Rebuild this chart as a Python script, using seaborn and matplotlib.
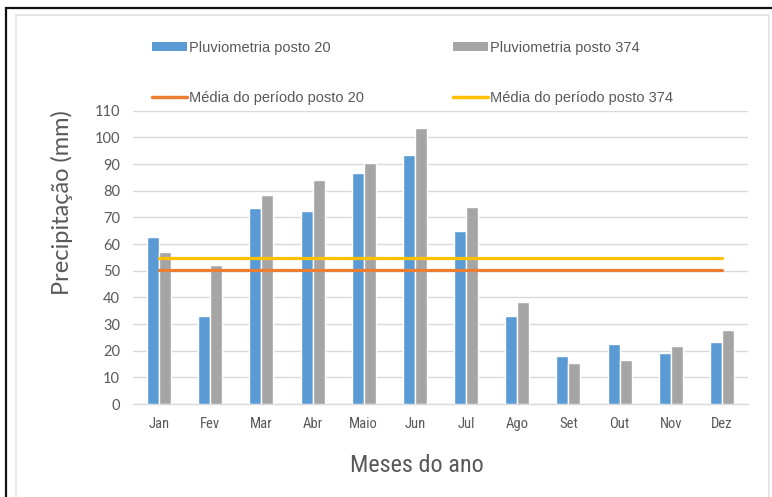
import numpy as np
import pandas as pd
import seaborn as sns
import matplotlib
matplotlib.use("Agg")
import matplotlib.pyplot as plt
from matplotlib import font_manager
from matplotlib.patches import Patch, Rectangle
from matplotlib.lines import Line2D

# Monthly rainfall (mm) at two stations
meses = ["Jan", "Fev", "Mar", "Abr", "Maio", "Jun", "Jul", "Ago", "Set", "Out", "Nov", "Dez"]
posto_20 = [62.5, 33.0, 73.6, 72.4, 86.6, 93.5, 64.9, 33.0, 17.9, 22.4, 19.3, 23.3]
posto_374 = [57.0, 52.3, 78.3, 83.9, 90.3, 103.5, 73.8, 38.1, 15.3, 16.4, 21.6, 27.6]
yticks = list(range(0, 111, 10))

serie_20 = "Pluviometria posto 20"
serie_374 = "Pluviometria posto 374"
media_lbl_20 = "Média do período posto 20"
media_lbl_374 = "Média do período posto 374"

c_blue, c_gray, c_orange, c_yellow = "#5B9BD5", "#A5A5A5", "#ED7D31", "#FFC000"
txt_gray = "#595959"

available = {f.name for f in font_manager.fontManager.ttflist}
def pick(*names):
    for n in names:
        if n in available:
            return n
    return "DejaVu Sans"

f_arial = pick("Liberation Sans", "Arimo", "DejaVu Sans")
f_narrow = pick("Liberation Sans Narrow", "DejaVu Sans Condensed", "Roboto Condensed", f_arial)
f_calibri = pick("Lato", "Open Sans", f_arial)

sns.set_theme(style="white")
plt.rcParams["font.family"] = [f_arial, "DejaVu Sans"]

df = pd.DataFrame({
    "mes": meses * 2,
    "valor": posto_20 + posto_374,
    "serie": [serie_20] * 12 + [serie_374] * 12,
})

fig = plt.figure(figsize=(7.72, 4.97), dpi=100)
ax = fig.add_axes([133.4 / 772, 1 - 404 / 497, (747.6 - 133.4) / 772, (404 - 110.7) / 497])

sns.barplot(data=df, x="mes", y="valor", hue="serie", order=meses,
            hue_order=[serie_20, serie_374], palette=[c_blue, c_gray],
            width=0.47, gap=0, saturation=1, ax=ax, legend=False, zorder=3)

x_idx = np.arange(len(meses))
media_20 = float(np.mean(posto_20))
media_374 = float(np.mean(posto_374))
sns.lineplot(x=x_idx, y=np.full(len(meses), media_20), color=c_orange, lw=2.3, ax=ax, zorder=4)
sns.lineplot(x=x_idx, y=np.full(len(meses), media_374), color=c_yellow, lw=2.3, ax=ax, zorder=4)

ax.set_xlim(-0.5, len(meses) - 0.5)
ax.set_ylim(0, 110)
ax.set_yticks(yticks)
ax.yaxis.grid(True, color="#D9D9D9", lw=1.0, zorder=0)
ax.xaxis.grid(False)
for s in ["top", "right", "left"]:
    ax.spines[s].set_visible(False)
ax.spines["bottom"].set_color("#D9D9D9")
ax.spines["bottom"].set_linewidth(1.0)
ax.tick_params(axis="both", length=0)
ax.tick_params(axis="y", pad=9.5, labelcolor=txt_gray, labelsize=10.5)
ax.tick_params(axis="x", pad=9.5, labelcolor=txt_gray, labelsize=10.5)
for t in ax.get_yticklabels():
    t.set_fontfamily(f_calibri)
for t in ax.get_xticklabels():
    t.set_fontfamily(f_narrow)
ax.set_xlabel("")
ax.set_ylabel("")

fig.text(62 / 772, 1 - 203 / 497, "Precipitação (mm)", rotation=90, ha="center", va="center",
         fontsize=17, color=txt_gray, family=f_calibri)
fig.text(417 / 772, 1 - 466 / 497, "Meses do ano", ha="center", va="center",
         fontsize=17.5, color=txt_gray, family=f_narrow)

handles = [
    Patch(facecolor=c_blue, edgecolor="none"),
    Line2D([], [], color=c_orange, lw=2.5),
    Patch(facecolor=c_gray, edgecolor="none"),
    Line2D([], [], color=c_yellow, lw=2.5),
]
labels = [serie_20, media_lbl_20, serie_374, media_lbl_374]
fig.legend(handles, labels, ncol=2, loc="upper left",
           bbox_to_anchor=(152 / 772, 1 - 41 / 497), frameon=False,
           fontsize=10.5, labelcolor=txt_gray, handlelength=2.4, handleheight=0.6,
           handletextpad=0.15, labelspacing=2.45, columnspacing=6.1,
           borderpad=0, borderaxespad=0)

# frame of the chart area and outer box
fig.patches.append(Rectangle((16 / 772, -0.05), (769 - 16) / 772, 1 - 15 / 497 + 0.05,
                             transform=fig.transFigure, fill=False, ec="#E4E4E4", lw=1.3))
fig.patches.append(Rectangle((5.5 / 772, -0.05), 1.05, 1 - 8.3 / 497 + 0.05,
                             transform=fig.transFigure, fill=False, ec="#111111", lw=1.6))

fig.savefig("out.png", dpi=100, facecolor="white")
